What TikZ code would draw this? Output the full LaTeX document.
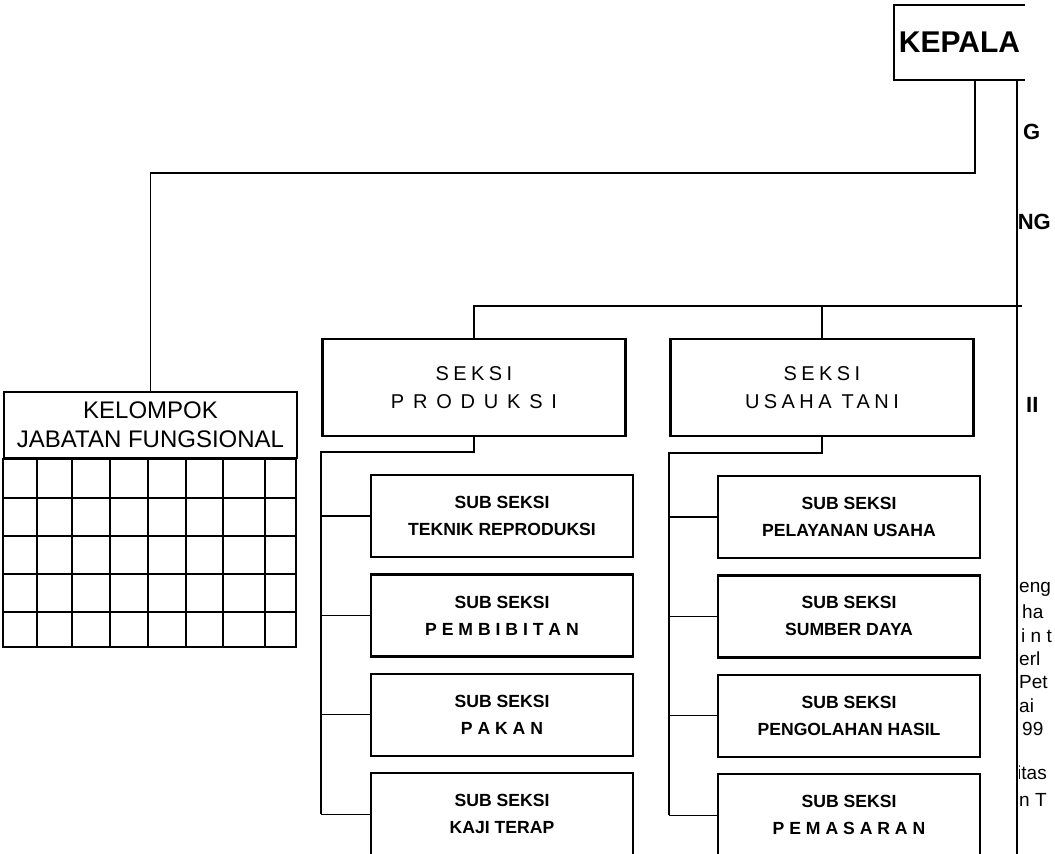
\documentclass[tikz,border=0pt]{standalone}
\usepackage{fontspec}
\setmainfont{Liberation Sans}
\usetikzlibrary{positioning}

\begin{document}
\begin{tikzpicture}[x=1pt,y=-1pt,
    node distance=15pt,
    kotak/.style={rectangle, draw, line width=2.4pt, align=center, inner sep=2pt},
    seksi/.style={kotak, minimum width=303pt, minimum height=97pt, font=\fontsize{20}{28}\selectfont\addfontfeature{LetterSpace=22}},
    subseksi/.style={kotak, minimum width=262pt, minimum height=82pt, font=\fontsize{17.6}{27}\selectfont\bfseries},
    garis/.style={line width=1.3pt},
    kisi/.style={line width=1.8pt},
    potong/.style={anchor=west, inner sep=0pt, font=\fontsize{19}{23}\selectfont}
  ]
  \useasboundingbox (0,0) rectangle (1055,854);
  \clip (0,0) rectangle (1055,854);

  % Nodes
  \node[minimum width=131pt, minimum height=75pt, inner sep=0pt, font=\fontsize{30}{36}\selectfont\bfseries] (kepala) at (959.5,42.5) {KEPALA};
  \draw[line width=2.4pt] (kepala.north east) -- (kepala.north west) -- (kepala.south west) -- (kepala.south east);

  \node[kotak, minimum width=293pt, minimum height=66pt, font=\fontsize{24}{29}\selectfont] (kelompok) at (150.5,425) {KELOMPOK\\JABATAN FUNGSIONAL};
  \draw[line width=2.4pt] (kelompok.south west) rectangle ++(293,188);
  \foreach \x in {34,69,107,145,183,220,262}
    \draw[kisi] (kelompok.south west) ++(\x,0) -- ++(0,188);
  \foreach \y in {39,77,115,153}
    \draw[kisi] (kelompok.south west) ++(0,\y) -- ++(293,0);

  \node[seksi] (produksi) at (474,387.5) {SEKSI\\{\addfontfeature{LetterSpace=44}PRODUKSI}};
  \node[seksi] (usaha) at (822,387.5) {SEKSI\\USAHA TANI};

  \node[subseksi] (teknik) at (502,516) {SUB SEKSI\\TEKNIK REPRODUKSI};
  \node[subseksi, below=of teknik] (pembibitan) {SUB SEKSI\\P E M B I B I T A N};
  \node[subseksi, below=of pembibitan] (pakan) {SUB SEKSI\\P A K A N};
  \node[subseksi, below=of pakan] (kaji) {SUB SEKSI\\KAJI TERAP};

  \node[subseksi] (pelayanan) at (849,517) {SUB SEKSI\\PELAYANAN USAHA};
  \node[subseksi, below=of pelayanan] (sumber) {SUB SEKSI\\SUMBER DAYA};
  \node[subseksi, below=of sumber] (pengolahan) {SUB SEKSI\\PENGOLAHAN HASIL};
  \node[subseksi, below=of pengolahan] (pemasaran) {SUB SEKSI\\P E M A S A R A N};

  % Connections
  \coordinate (pgend) at (1017,854);
  \coordinate (bus) at (1022,306);
  \coordinate (kiri) at (321,452);
  \coordinate (kanan) at (669,453);
  \draw[garis] (kepala.south -| 975,0) -- (975,173) -| (kelompok.north);
  \draw[garis] (kepala.south -| 1017,0) -- (pgend);
  \draw[garis] (bus) -| (produksi.north);
  \draw[garis] (usaha.north) -- (usaha.north |- bus);

  \draw[garis] (produksi.south) |- (kiri) -- (kiri |- kaji.west);
  \foreach \n in {teknik,pembibitan,pakan,kaji}
    \draw[garis] (kiri |- \n.west) -- (\n.west);

  \draw[garis] (usaha.south) |- (kanan) -- (kanan |- pemasaran.west);
  \foreach \n in {pelayanan,sumber,pengolahan,pemasaran}
    \draw[garis] (kanan |- \n.west) -- (\n.west);

  % teks halaman sebelah yang terpotong
  \begin{scope}
    \clip (1019,100) rectangle (1055,854);
    \node[potong, font=\fontsize{22}{26}\selectfont\bfseries] (g1) at (1023,132) {G};
    \node[potong, anchor=east, font=\fontsize{22}{26}\selectfont\bfseries] (g2) at (1051,222) {NG};
    \node[potong, font=\fontsize{22}{26}\selectfont\bfseries] (g3) at (1026,405) {II};
    \node[potong] (t1) at (1019,589) {eng};
    \node[potong] (t2) at (1022,612) {ha};
    \node[potong] (t3) at (1021,636) {i n t};
    \node[potong] (t4) at (1019,659) {erl};
    \node[potong] (t5) at (1019,682) {Pet};
    \node[potong] (t6) at (1019,706) {ai};
    \node[potong] (t7) at (1022,729) {99};
    \node[potong] (t8) at (1017,773) {itas};
    \node[potong] (t9) at (1019,800) {n T};
  \end{scope}
\end{tikzpicture}
\end{document}
